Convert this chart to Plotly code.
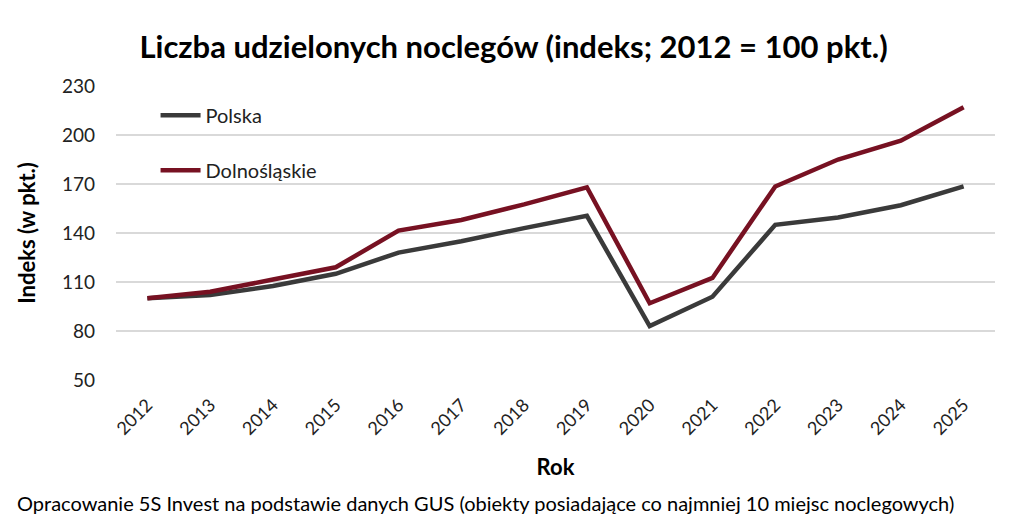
import plotly.graph_objects as go

# Dane (indeks; 2012 = 100 pkt.)
lata = ['2012', '2013', '2014', '2015', '2016', '2017', '2018',
        '2019', '2020', '2021', '2022', '2023', '2024', '2025']
polska = [100, 102, 107.5, 115, 128, 135, 143, 150.5, 83, 101, 145, 149.5, 157, 168.5]
dolnoslaskie = [100, 104, 111.5, 119, 141.5, 148, 157.5, 168, 97, 112.5, 168.5, 185, 196.5, 217]

FONT = 'Lato'

fig = go.Figure()

fig.add_trace(go.Scatter(
    x=lata,
    y=polska,
    mode='lines',
    name='Polska',
    legendgroup='a',
    line=dict(color='#3a3a3a', width=4.5)
))

fig.add_trace(go.Scatter(
    x=lata,
    y=dolnoslaskie,
    mode='lines',
    name='Dolnośląskie',
    legendgroup='b',
    line=dict(color='#771122', width=4.5)
))

fig.update_layout(
    width=1024,
    height=528,
    plot_bgcolor='white',
    paper_bgcolor='white',
    font=dict(family=FONT, size=18, color='#222222'),
    title=dict(
        text='<b>Liczba udzielonych noclegów (indeks; 2012 = 100 pkt.)</b>',
        x=0.4937, xanchor='center',
        y=0.926, yanchor='middle',
        font=dict(family=FONT, size=31, color='#000000')
    ),
    xaxis=dict(
        type='category',
        range=[-0.5, 13.5],
        tickangle=-45,
        showgrid=False,
        showline=False,
        ticks='',
        ticklabelstandoff=10,
        tickfont=dict(size=18),
        title=dict(text='<b>Rok</b>', font=dict(size=22, color='#000000'), standoff=21)
    ),
    yaxis=dict(
        range=[50, 230],
        tickvals=[50, 80, 110, 140, 170, 200, 230],
        showgrid=True,
        gridcolor='#d9d9d9',
        gridwidth=1.5,
        zeroline=False,
        showline=False,
        ticks='',
        ticklabelstandoff=20,
        tickfont=dict(size=19),
        title=dict(text='<b>Indeks (w pkt.)</b>', font=dict(size=22, color='#000000'), standoff=20)
    ),
    legend=dict(
        x=0.045, y=0.967,
        xanchor='left', yanchor='top',
        traceorder='grouped',
        tracegroupgap=26,
        bgcolor='rgba(0,0,0,0)',
        font=dict(size=20, color='#222222'),
        itemwidth=40
    ),
    margin=dict(l=108, r=37, t=78, b=156),
    annotations=[dict(
        text='Opracowanie 5S Invest na podstawie danych GUS (obiekty posiadające co najmniej 10 miejsc noclegowych)',
        xref='paper', yref='paper',
        x=-0.115, y=-0.418,
        xanchor='left', yanchor='middle',
        showarrow=False,
        font=dict(size=20, color='#000000')
    )]
)

fig.write_html('out.html')
